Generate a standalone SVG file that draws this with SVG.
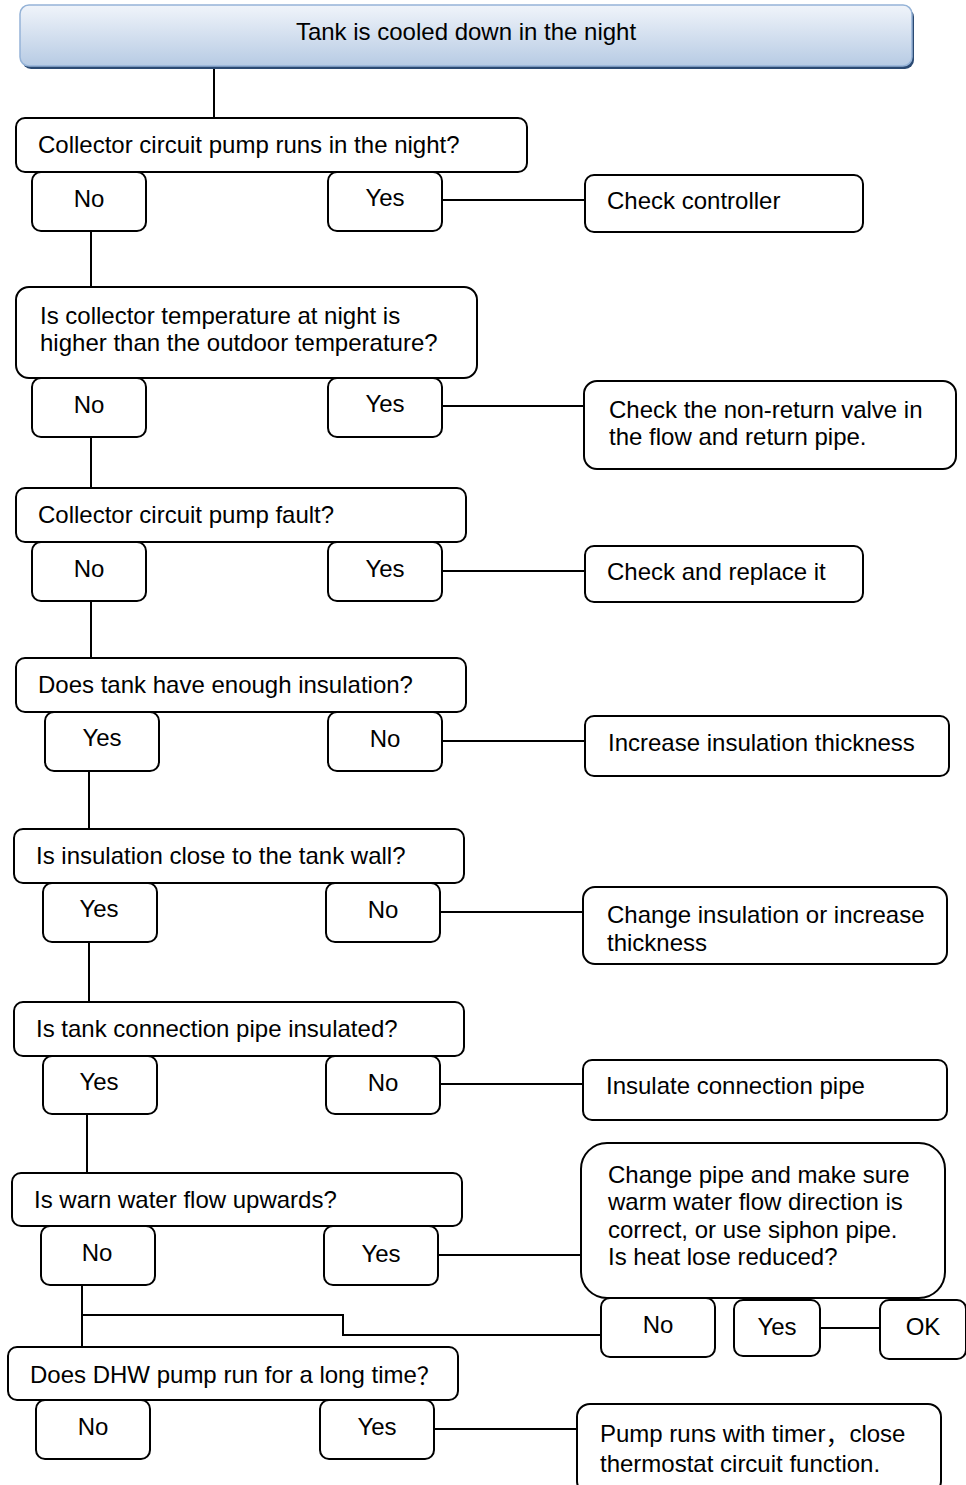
<svg xmlns="http://www.w3.org/2000/svg" width="966" height="1485" viewBox="0 0 966 1485">
<defs>
<linearGradient id="hg" x1="0" y1="0" x2="0" y2="1">
<stop offset="0" stop-color="#f0f4fa"/>
<stop offset="1" stop-color="#b7cbe4"/>
</linearGradient>
<style>
.b{fill:#fff;stroke:#000;stroke-width:2}
.t{font-family:"Liberation Sans",Arial,"Noto Sans CJK SC",sans-serif;font-size:24px;fill:#000;dominant-baseline:central;transform:translateY(-1px)}
.cjk{font-family:"Noto Sans CJK SC",sans-serif}
.c{text-anchor:middle}
.ln{fill:none;stroke:#000;stroke-width:2}
</style>
</defs>
<rect width="966" height="1485" fill="#fff"/>
<g id="connectors">
<path class="ln" d="M214 67V118"/>
<path class="ln" d="M91 231V287"/>
<path class="ln" d="M442 200H585"/>
<path class="ln" d="M91 437V488"/>
<path class="ln" d="M442 406H584"/>
<path class="ln" d="M91 601V658"/>
<path class="ln" d="M442 571H585"/>
<path class="ln" d="M89 771V829"/>
<path class="ln" d="M442 741H585"/>
<path class="ln" d="M89 942V1002"/>
<path class="ln" d="M440 912H583"/>
<path class="ln" d="M87 1114V1173"/>
<path class="ln" d="M440 1084H583"/>
<path class="ln" d="M438 1255H581"/>
<path class="ln" d="M82 1285V1347"/>
<path class="ln" d="M82 1315H343V1335H601"/>
<path class="ln" d="M820 1328H880"/>
<path class="ln" d="M434 1429H577"/>
</g>
<g id="header">
<rect x="22" y="8" width="892" height="61" rx="9" fill="#2b4a73"/>
<rect x="20" y="5" width="892" height="61" rx="9" fill="url(#hg)" stroke="#95b3d7" stroke-width="1.5"/>
<text class="t c" x="466" y="32">Tank is cooled down in the night</text>
</g>
<g id="q1"><rect class="b" x="16" y="118" width="511" height="54" rx="9"/><text class="t" x="38" y="145">Collector circuit pump runs in the night?</text></g>
<g id="no1"><rect class="b" x="32" y="172" width="114" height="59" rx="9"/><text class="t c" x="89" y="199">No</text></g>
<g id="yes1"><rect class="b" x="328" y="172" width="114" height="59" rx="9"/><text class="t c" x="385" y="198">Yes</text></g>
<g id="a1"><rect class="b" x="585" y="175" width="278" height="57" rx="9"/><text class="t" x="607" y="201">Check controller</text></g>

<g id="q2"><rect class="b" x="16" y="287" width="461" height="91" rx="13"/><text class="t" x="40" y="316">Is collector temperature at night is</text><text class="t" x="40" y="343">higher than the outdoor temperature?</text></g>
<g id="no2"><rect class="b" x="32" y="378" width="114" height="59" rx="9"/><text class="t c" x="89" y="405">No</text></g>
<g id="yes2"><rect class="b" x="328" y="378" width="114" height="59" rx="9"/><text class="t c" x="385" y="404">Yes</text></g>
<g id="a2"><rect class="b" x="584" y="381" width="372" height="88" rx="13"/><text class="t" x="609" y="410">Check the non-return valve in</text><text class="t" x="609" y="437">the flow and return pipe.</text></g>

<g id="q3"><rect class="b" x="16" y="488" width="450" height="54" rx="9"/><text class="t" x="38" y="515">Collector circuit pump fault?</text></g>
<g id="no3"><rect class="b" x="32" y="542" width="114" height="59" rx="9"/><text class="t c" x="89" y="569">No</text></g>
<g id="yes3"><rect class="b" x="328" y="542" width="114" height="59" rx="9"/><text class="t c" x="385" y="569">Yes</text></g>
<g id="a3"><rect class="b" x="585" y="546" width="278" height="56" rx="9"/><text class="t" x="607" y="572">Check and replace it</text></g>

<g id="q4"><rect class="b" x="16" y="658" width="450" height="54" rx="9"/><text class="t" x="38" y="685">Does tank have enough insulation?</text></g>
<g id="yes4"><rect class="b" x="45" y="712" width="114" height="59" rx="9"/><text class="t c" x="102" y="738">Yes</text></g>
<g id="no4"><rect class="b" x="328" y="712" width="114" height="59" rx="9"/><text class="t c" x="385" y="739">No</text></g>
<g id="a4"><rect class="b" x="585" y="716" width="364" height="60" rx="9"/><text class="t" x="608" y="743">Increase insulation thickness</text></g>

<g id="q5"><rect class="b" x="14" y="829" width="450" height="54" rx="9"/><text class="t" x="36" y="856">Is insulation close to the tank wall?</text></g>
<g id="yes5"><rect class="b" x="43" y="883" width="114" height="59" rx="9"/><text class="t c" x="99" y="909">Yes</text></g>
<g id="no5"><rect class="b" x="326" y="883" width="114" height="59" rx="9"/><text class="t c" x="383" y="910">No</text></g>
<g id="a5"><rect class="b" x="583" y="887" width="364" height="77" rx="12"/><text class="t" x="607" y="915">Change insulation or increase</text><text class="t" x="607" y="943">thickness</text></g>

<g id="q6"><rect class="b" x="14" y="1002" width="450" height="54" rx="9"/><text class="t" x="36" y="1029">Is tank connection pipe insulated?</text></g>
<g id="yes6"><rect class="b" x="43" y="1056" width="114" height="58" rx="9"/><text class="t c" x="99" y="1082">Yes</text></g>
<g id="no6"><rect class="b" x="326" y="1056" width="114" height="58" rx="9"/><text class="t c" x="383" y="1083">No</text></g>
<g id="a6"><rect class="b" x="583" y="1060" width="364" height="60" rx="9"/><text class="t" x="606" y="1086">Insulate connection pipe</text></g>

<g id="q7"><rect class="b" x="12" y="1173" width="450" height="53" rx="9"/><text class="t" x="34" y="1200">Is warn water flow upwards?</text></g>
<g id="no7"><rect class="b" x="41" y="1226" width="114" height="59" rx="9"/><text class="t c" x="97" y="1253">No</text></g>
<g id="yes7"><rect class="b" x="324" y="1226" width="114" height="59" rx="9"/><text class="t c" x="381" y="1254">Yes</text></g>
<g id="a7"><rect class="b" x="581" y="1143" width="364" height="155" rx="26"/><text class="t" x="608" y="1175">Change pipe and make sure</text><text class="t" x="608" y="1202">warm water flow direction is</text><text class="t" x="608" y="1230">correct, or use siphon pipe.</text><text class="t" x="608" y="1257">Is heat lose reduced?</text></g>
<g id="no8"><rect class="b" x="601" y="1298" width="114" height="59" rx="9"/><text class="t c" x="658" y="1325">No</text></g>
<g id="yes8"><rect class="b" x="734" y="1300" width="86" height="56" rx="9"/><text class="t c" x="777" y="1327">Yes</text></g>
<g id="ok"><rect class="b" x="880" y="1300" width="86" height="59" rx="9"/><text class="t c" x="923" y="1327">OK</text></g>

<g id="q8"><rect class="b" x="8" y="1347" width="450" height="53" rx="9"/><text class="t" x="30" y="1375">Does DHW pump run for a long time<tspan class="cjk">？</tspan></text></g>
<g id="no9"><rect class="b" x="36" y="1400" width="114" height="59" rx="9"/><text class="t c" x="93" y="1427">No</text></g>
<g id="yes9"><rect class="b" x="320" y="1400" width="114" height="59" rx="9"/><text class="t c" x="377" y="1427">Yes</text></g>
<g id="a9"><rect class="b" x="577" y="1404" width="364" height="90" rx="13"/><text class="t" x="600" y="1434">Pump runs with timer<tspan class="cjk">，</tspan>close</text><text class="t" x="600" y="1464">thermostat circuit function.</text></g>
</svg>
